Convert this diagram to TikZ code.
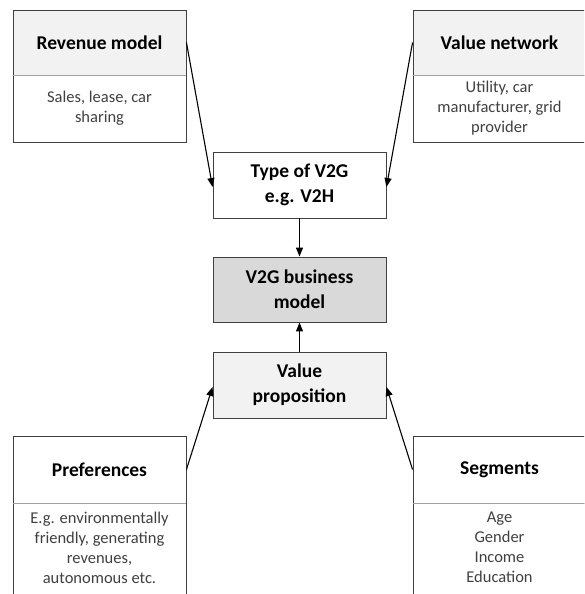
\documentclass[tikz,border=0pt]{standalone}
\usepackage{fontspec}
\setmainfont{Carlito}
\usetikzlibrary{arrows.meta}
\definecolor{bordc}{HTML}{404040}
\definecolor{divc}{HTML}{A0A0A0}
\definecolor{headc}{HTML}{F2F2F2}
\definecolor{bmc}{HTML}{D9D9D9}
\definecolor{txtc}{HTML}{404040}
\tikzset{
  box/.style={draw=bordc, line width=0.9pt, minimum width=173pt, inner sep=0pt, align=center},
  title/.style={box, font=\fontsize{19.5}{25}\selectfont\bfseries, text=black},
  body/.style={box, font=\fontsize{16.5}{20}\selectfont, text=txtc},
  divider/.style={draw=divc, line width=1.8pt},
  arr/.style={draw=black, line width=1.1pt, -{Triangle[length=9pt,width=7pt]}}
}
\begin{document}
\begin{tikzpicture}[x=1pt,y=-1pt]
\useasboundingbox (0,0) rectangle (584,594);
\clip (0,0) rectangle (584,594);
% top left
\node[title, fill=headc, minimum height=65pt] (revh) at (99.5,42.5) {Revenue model};
\node[body, fill=white, minimum height=67pt] (revb) at (99.5,108.5) {Sales, lease, car\\sharing};
\draw[divider] (revh.south west) -- (revh.south east);
% top right
\node[title, fill=headc, minimum height=65pt] (neth) at (499.5,42.5) {Value network};
\node[body, fill=white, minimum height=67pt] (netb) at (499.5,108.5) {Utility, car\\manufacturer, grid\\provider};
\draw[divider] (neth.south west) -- (neth.south east);
% centre column
\node[title, fill=white, minimum height=66pt] (type) at (299.5,185) {Type of V2G\\e.g. V2H};
\node[title, fill=bmc, minimum height=65pt] (bm) at (299.5,289.5) {V2G business\\model};
\node[title, fill=headc, minimum height=66pt] (vp) at (299.5,385) {Value\\proposition};
% bottom left
\node[title, fill=white, minimum height=67pt] (prefh) at (99.5,469.5) {Preferences};
\node[body, fill=white, minimum height=110pt, anchor=north] (prefb) at (prefh.south) {};
\node[font=\fontsize{16.5}{20}\selectfont, text=txtc, align=center, anchor=north, inner sep=0pt] (preft) at (99.5,512) {E.g. environmentally\\friendly, generating\\revenues,\\autonomous etc.};
\draw[divider] (prefh.south west) -- (prefh.south east);
% bottom right
\node[title, fill=white, minimum height=67pt] (segh) at (499.5,469.5) {Segments};
\node[body, fill=white, minimum height=110pt, anchor=north] (segb) at (segh.south) {};
\node[font=\fontsize{16.5}{20}\selectfont, text=txtc, align=center, anchor=north, inner sep=0pt] (segt) at (499.5,512) {Age\\Gender\\Income\\Education};
\draw[divider] (segh.south west) -- (segh.south east);
% arrows
\draw[arr] (revh.east) -- ([yshift=-2pt]type.west);
\draw[arr] (neth.west) -- ([yshift=-2pt]type.east);
\draw[arr] (type.south) -- (bm.north);
\draw[arr] (vp.north) -- (bm.south);
\draw[arr] (prefh.east) -- ([yshift=-2pt]vp.west);
\draw[arr] (segh.west) -- ([yshift=-2pt]vp.east);
\end{tikzpicture}
\end{document}
